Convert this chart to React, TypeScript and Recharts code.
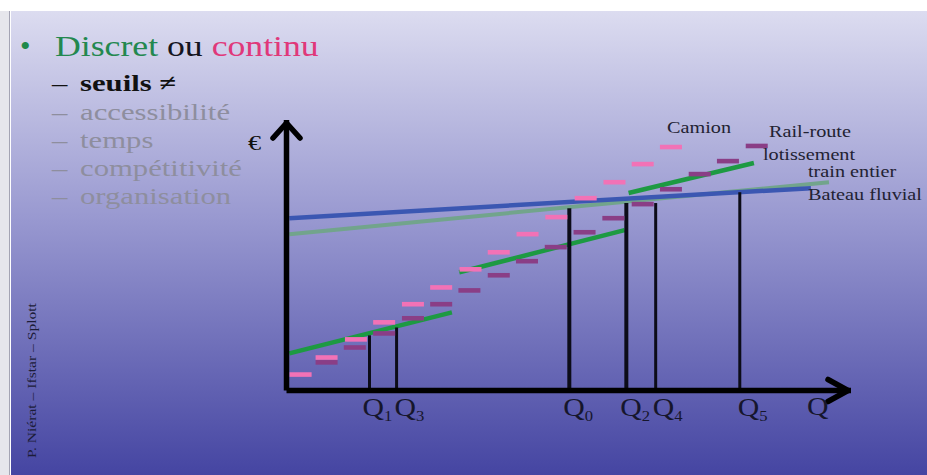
import React from "react";
import {
  ComposedChart,
  XAxis,
  YAxis,
  Line,
  Scatter,
  ReferenceLine,
} from "recharts";

const W = 927;
const H = 475;

// Q on the horizontal axis, cost (€) on the vertical axis, both read on a 0-100 scale
const seuilNames = ["1", "3", "0", "2", "4", "5"];
const seuilQ = [14.7, 19.5, 50.1, 60.2, 65.4, 80.3];
const seuilCout = [20.4, 23.3, 67.4, 69.3, 69.3, 73.3];

// Camion (pink steps)
const camionQ = [2.5, 7.1, 12.3, 17.3, 22.4, 27.4, 32.6, 37.6, 42.7, 47.8, 53.0, 58.1, 63.1, 68.1];
const camionCout = [5.9, 12.2, 18.9, 25.2, 31.9, 38.1, 44.8, 51.1, 57.8, 64.1, 71.1, 77.0, 83.7, 90.0];

// Rail-route (purple steps)
const railQ = [7.1, 12.1, 17.3, 22.4, 27.4, 32.4, 37.6, 42.6, 47.7, 52.8, 57.9, 63.1, 68.1, 73.2, 78.2, 83.3];
const railCout = [10.4, 15.9, 21.1, 26.7, 31.9, 37.0, 42.6, 47.8, 53.0, 58.5, 63.7, 68.9, 74.4, 80.0, 84.8, 90.4];

// lotissement (green segments)
const lotissementQ = [
  [0.5, 29.3],
  [30.6, 59.9],
  [60.6, 82.8],
];
const lotissementCout = [
  [13.7, 28.9],
  [43.7, 59.3],
  [73.0, 84.1],
];

const trainEntierQ = [0.5, 96.1];
const trainEntierCout = [57.8, 77.0];

const bateauQ = [0.5, 92.9];
const bateauCout = [63.7, 74.8];

const subBullets = ["accessibilité", "temps", "compétitivité", "organisation"];
const seriesNames = ["Camion", "Rail-route", "lotissement", "train entier", "Bateau fluvial"];

const SERIF = "'Liberation Serif', 'Times New Roman', serif";
const STRETCH = 1.19;

const toPoints = (qs: number[], cs: number[]) => qs.map((q, i) => ({ q, e: cs[i] }));

function Dash(props: any) {
  const { cx, cy, fill } = props;
  if (cx == null || cy == null) return null;
  return <rect x={cx - 11} y={cy - 2.3} width={22} height={4.6} fill={fill} />;
}

// label shift left of each threshold line, in px
const tickShift = [7, 2, 6, 6, 3, 2];

function QTick(props: any) {
  const { x, y, payload } = props;
  const i = seuilQ.indexOf(payload.value);
  return (
    <g transform={`translate(${x - tickShift[i]},${y + 17}) scale(${STRETCH},1)`}>
      <text x={0} y={0} fontFamily={SERIF} fontSize={25} fill="#16162c">
        Q
        <tspan fontSize={14} dy={5}>
          {seuilNames[i]}
        </tspan>
      </text>
    </g>
  );
}

const seuilWidth = [3, 3, 4, 4, 3, 3];
const labelPos = [
  [667, 133],
  [769, 137],
  [763, 160],
  [808, 177],
  [808, 200],
];

export default function App() {
  return (
    <div
      style={{
        position: "absolute",
        left: 0,
        top: 0,
        width: W,
        height: H,
        background: "#ffffff",
        overflow: "hidden",
      }}
    >
      <div
        style={{
          position: "absolute",
          left: 0,
          top: 11,
          width: 9,
          height: H - 11,
          background: "#e6e6ec",
          borderRight: "1.5px solid #a4a4b4",
        }}
      />
      <div
        style={{
          position: "absolute",
          left: 10.5,
          top: 11,
          width: W - 10.5,
          height: H - 11,
          background: "linear-gradient(to bottom, #dcdcf0 0%, #9898d0 45%, #4545a2 100%)",
        }}
      />

      <div style={{ position: "absolute", left: 0, top: 0 }}>
        <ComposedChart
          width={W}
          height={H}
          margin={{ top: 120, right: 76, bottom: 54.5, left: 266.5 }}
        >
          <defs>
            <marker
              id="arrowUp"
              viewBox="-30 -20 40 40"
              markerWidth={40}
              markerHeight={40}
              refX={3}
              refY={0}
              orient="auto-start-reverse"
              markerUnits="userSpaceOnUse"
            >
              <path
                d="M -15 -13.5 L 0 0 L -15 13.5"
                fill="none"
                stroke="#000"
                strokeWidth={5.5}
                strokeLinejoin="round"
                strokeLinecap="round"
              />
            </marker>
            <marker
              id="arrowRight"
              viewBox="-30 -20 40 40"
              markerWidth={40}
              markerHeight={40}
              refX={3}
              refY={0}
              orient="auto"
              markerUnits="userSpaceOnUse"
            >
              <path
                d="M -20 -11 L 0 0 L -20 11"
                fill="none"
                stroke="#000"
                strokeWidth={5.5}
                strokeLinejoin="round"
                strokeLinecap="round"
              />
            </marker>
          </defs>
          <XAxis
            type="number"
            dataKey="q"
            domain={[0, 100]}
            ticks={seuilQ}
            interval={0}
            tickLine={false}
            tick={<QTick />}
            height={30}
            axisLine={{ stroke: "#000", strokeWidth: 5.5, markerEnd: "url(#arrowRight)" }}
          />
          <YAxis
            type="number"
            dataKey="e"
            domain={[0, 100]}
            tick={false}
            tickLine={false}
            width={20}
            axisLine={{ stroke: "#000", strokeWidth: 5.5, markerStart: "url(#arrowUp)" }}
          />

          <Scatter
            name="Camion"
            data={toPoints(camionQ, camionCout)}
            fill="#f272b6"
            shape={<Dash fill="#f272b6" />}
            isAnimationActive={false}
          />
          <Scatter
            name="Rail-route"
            data={toPoints(railQ, railCout)}
            fill="#8a3e86"
            shape={<Dash fill="#8a3e86" />}
            isAnimationActive={false}
          />

          <Line
            name="train entier"
            data={toPoints(trainEntierQ, trainEntierCout)}
            dataKey="e"
            stroke="#72a48c"
            strokeWidth={4}
            dot={false}
            activeDot={false}
            isAnimationActive={false}
          />
          <Line
            name="Bateau fluvial"
            data={toPoints(bateauQ, bateauCout)}
            dataKey="e"
            stroke="#3b57b2"
            strokeWidth={4.5}
            dot={false}
            activeDot={false}
            isAnimationActive={false}
          />
          {lotissementQ.map((qs, i) => (
            <Line
              key={"lot" + i}
              name="lotissement"
              data={toPoints(qs, lotissementCout[i])}
              dataKey="e"
              stroke="#1d9a42"
              strokeWidth={4.5}
              dot={false}
              activeDot={false}
              isAnimationActive={false}
            />
          ))}

          {seuilQ.map((q, i) => (
            <ReferenceLine
              key={"seuil" + i}
              segment={[
                { x: q, y: 0 },
                { x: q, y: seuilCout[i] },
              ]}
              stroke="#0c0c18"
              strokeWidth={seuilWidth[i]}
            />
          ))}
        </ComposedChart>
      </div>

      <svg
        width={W}
        height={H}
        style={{ position: "absolute", left: 0, top: 0, pointerEvents: "none" }}
      >
        {/* title */}
        <text x={20} y={56} fontFamily={SERIF} fontSize={30} fill="#1f8a4c">
          •
        </text>
        <g transform={`translate(55,56) scale(${STRETCH},1)`}>
          <text x={0} y={0} fontFamily={SERIF} fontSize={30}>
            <tspan fill="#23884f">Discret</tspan>
            <tspan fill="#15151f"> ou </tspan>
            <tspan fill="#e0387a">continu</tspan>
          </text>
        </g>

        <g transform={`translate(52,91) scale(1.28,1)`}>
          <text x={0} y={0} fontFamily={SERIF} fontSize={24} fill="#111">
            –
          </text>
        </g>
        <g transform={`translate(80,91) scale(1.28,1)`}>
          <text x={0} y={0} fontFamily={SERIF} fontSize={24} fontWeight="bold" fill="#111">
            seuils ≠
          </text>
        </g>
        {subBullets.map((b, i) => (
          <g key={b}>
            <g transform={`translate(52,${119.5 + i * 28}) scale(1.28,1)`}>
              <text x={0} y={0} fontFamily={SERIF} fontSize={24} fill="#8e8e9e">
                –
              </text>
            </g>
            <g transform={`translate(80,${119.5 + i * 28}) scale(1.28,1)`}>
              <text x={0} y={0} fontFamily={SERIF} fontSize={24} fill="#8e8e9e">
                {b}
              </text>
            </g>
          </g>
        ))}

        {/* axis titles */}
        <g transform={`translate(248,150) scale(${STRETCH},1)`}>
          <text x={0} y={0} fontFamily={SERIF} fontSize={22} fill="#111">
            €
          </text>
        </g>
        <g transform={`translate(807,415) scale(${STRETCH},1)`}>
          <text x={0} y={0} fontFamily={SERIF} fontSize={25} fill="#16162c">
            Q
          </text>
        </g>

        {/* series names */}
        {seriesNames.map((n, i) => (
          <g key={n} transform={`translate(${labelPos[i][0]},${labelPos[i][1]}) scale(${STRETCH},1)`}>
            <text x={0} y={0} fontFamily={SERIF} fontSize={17} fill="#222232">
              {n}
            </text>
          </g>
        ))}

        {/* credit */}
        <g transform="translate(36,458) rotate(-90) scale(1.2,1)">
          <text x={0} y={0} fontFamily={SERIF} fontSize={13} fill="#1c1c38">
            P. Niérat – Ifstar – Splott
          </text>
        </g>
      </svg>
    </div>
  );
}
